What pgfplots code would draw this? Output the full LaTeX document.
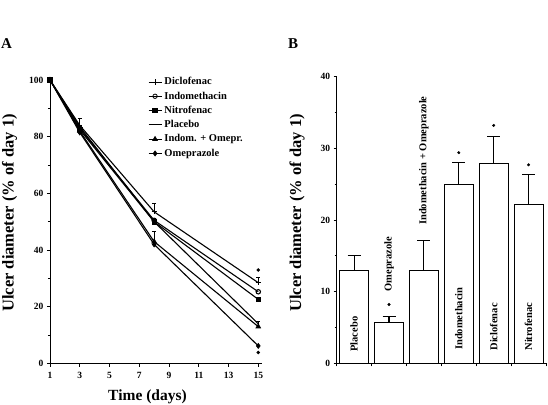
\documentclass[border=0pt]{standalone}
\usepackage{fontspec}
\setmainfont{Liberation Serif}
\usepackage{pgfplots}
\pgfplotsset{compat=1.18}
\begin{document}
\begin{tikzpicture}
\path[use as bounding box] (0pt,0pt) rectangle (548pt,404pt);
\node[font=\bfseries\fontsize{15}{15}\selectfont, anchor=base west, inner sep=0pt] at (1pt,355.5pt) {A};
\node[font=\bfseries\fontsize{15}{15}\selectfont, anchor=base west, inner sep=0pt] at (288pt,355.5pt) {B};
\node[rotate=90, font=\bfseries\fontsize{16.5}{17}\selectfont] at (9.5pt,191pt) {Ulcer diameter (\% of day 1)};
\node[rotate=90, font=\bfseries\fontsize{16.5}{17}\selectfont] at (297pt,191pt) {Ulcer diameter (\% of day 1)};
\node[anchor=base, font=\bfseries\fontsize{15.5}{16}\selectfont, inner sep=0pt] at (147.5pt,3.5pt) {Time (days)};

\begin{axis}[
  at={(50pt,40.5pt)}, anchor=south west, scale only axis,
  width=212pt, height=283.5pt,
  xmin=1, xmax=15.25, ymin=0, ymax=100,
  axis x line*=bottom, axis y line*=left,
  axis line style={line width=0.9pt,-},
  tick align=outside, major tick length=3pt, minor tick length=2pt,
  tick style={line width=0.8pt, black},
  xtick={1,3,...,15}, ytick={0,20,...,100}, minor ytick={10,30,...,90},
  tick label style={font=\bfseries\fontsize{9.5}{10}\selectfont},
  xticklabel style={yshift=-2.5pt},
  /pgf/number format/assume math mode=true,
  clip=false,
  every axis plot/.append style={line width=1.1pt, black, mark options={solid, line width=0.8pt}, mark size=2.2pt},
  legend style={draw=none, fill=none, at={(axis description cs:0.462,1.019)}, anchor=north west,
    inner sep=0pt, row sep=0pt, font=\bfseries\fontsize{10.5}{11}\selectfont,
    nodes={text height=8pt, text depth=2.5pt, inner ysep=1.9pt, inner xsep=2.5pt, anchor=west}},
  legend cell align=left,
  legend image code/.code={\draw[mark repeat=2,mark phase=2,line width=0.8pt] plot coordinates {(0pt,0pt) (6.5pt,0pt) (13pt,0pt)};},
]
\addplot[mark=+, mark size=2.6pt] coordinates {(1,100) (3,84) (8,53.5) (15,28.5)};
\addlegendentry{Diclofenac}
\addplot[mark=o, mark options={fill=white}] coordinates {(1,100) (3,83) (8,50.5) (15,25.3)};
\addlegendentry{Indomethacin}
\addplot[mark=square*] coordinates {(1,100) (3,82.5) (8,50) (15,22.6)};
\addlegendentry{Nitrofenac}
\addplot[mark=none] coordinates {(1,100) (3,83.5) (8,50) (15,14)};
\addlegendentry{Placebo}
\addplot[mark=triangle*, mark size=2.6pt] coordinates {(1,100) (3,82) (8,43) (15,13)};
\addlegendentry{Indom. + Omepr.}
\addplot[mark=diamond*, mark size=2.4pt] coordinates {(1,100) (3,81.5) (8,42) (15,6.2)};
\addlegendentry{Omeprazole}
\addplot[draw=none, mark=none, forget plot,
  error bars/.cd, y dir=plus, y explicit,
  error bar style={line width=0.8pt, black},
  error mark options={mark size=2.2pt, line width=0.8pt, black, rotate=90}]
  coordinates {(3,84) +- (0,2.3) (8,53.5) +- (0,3) (8,43) +- (0,3.5) (15,28.5) +- (0,2) (15,13) +- (0,2)};
\addplot[only marks, mark=*, mark size=1.3pt, forget plot] coordinates {(15,33) (15,3.9)};
\end{axis}

\begin{axis}[
  at={(336.7pt,40.7pt)}, anchor=south west, scale only axis,
  width=209.3pt, height=286.6pt,
  xmin=-0.5, xmax=5.5, ymin=0, ymax=40,
  axis x line*=bottom, axis y line*=left,
  axis line style={line width=0.9pt,-},
  tick align=outside, major tick length=3pt, minor tick length=2pt,
  tick style={line width=0.8pt, black},
  xtick={-0.5,0.5,...,5.5}, xticklabels={},
  ytick={0,10,...,40}, minor ytick={5,15,25,35},
  tick label style={font=\bfseries\fontsize{9.5}{10}\selectfont},
  /pgf/number format/assume math mode=true,
  clip=false,
]
\addplot[ybar, bar width=29pt, fill=white, draw=black, line width=1.1pt,
  error bars/.cd, y dir=plus, y explicit,
  error bar style={line width=1.1pt, black},
  error mark options={mark size=6.5pt, line width=1.1pt, black, rotate=90}]
  coordinates {(0,13) +- (0,2) (1,5.65) +- (0,0.9) (2,13) +- (0,4.1) (3,24.9) +- (0,3.1) (4,27.9) +- (0,3.8) (5,22.2) +- (0,4.1)};
\addplot[only marks, mark=*, mark size=1.3pt, black] coordinates {(1,8.2) (3,29.4) (4,33.2) (5,27.7)};
\begin{scope}[every node/.style={rotate=90, anchor=west, inner sep=0pt, font=\bfseries\fontsize{10.5}{11}\selectfont}]
\node at (axis cs:0,1.6) {Placebo};
\node at (axis cs:1,10) {Omeprazole};
\node at (axis cs:2,19.3) {Indomethacin + Omeprazole};
\node at (axis cs:3,1.85) {Indomethacin};
\node at (axis cs:4,1.75) {Diclofenac};
\node at (axis cs:5,1.75) {Nitrofenac};
\end{scope}
\end{axis}
\end{tikzpicture}
\end{document}
